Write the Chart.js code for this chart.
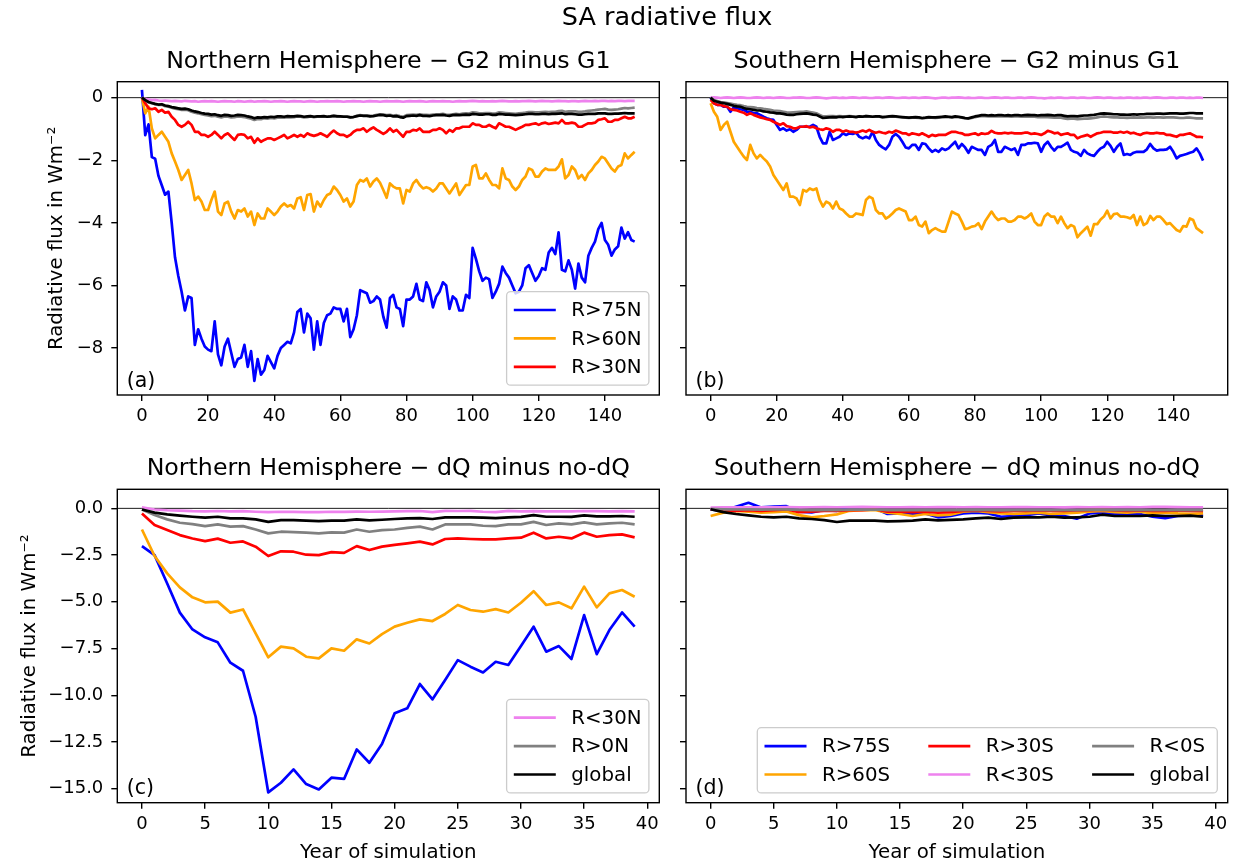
<!DOCTYPE html>
<html lang="en">
<head>
  <meta charset="UTF-8">
  <title>SA radiative flux</title>
  <script src="https://cdn.jsdelivr.net/npm/chart.js"></script>
  <style>
    body { margin: 0; background: #fff; }
    #fig { position: relative; width: 1237px; height: 863px; font-family: 'DejaVu Sans', sans-serif; }
    #fig canvas { position: absolute; }
    #suptitle { position: absolute; left: 467px; width: 400px; top: 4px; text-align: center;
                font-size: 25.5px; line-height: 25.5px; color: #000; }
  </style>
</head>
<body>
<div id="fig">
  <canvas id="panelA" width="668" height="440" style="left:0;top:0;width:668px;height:440px"></canvas>
  <canvas id="panelB" width="567" height="440" style="left:670px;top:0;width:567px;height:440px"></canvas>
  <canvas id="panelC" width="668" height="423" style="left:0;top:440px;width:668px;height:423px"></canvas>
  <canvas id="panelD" width="567" height="423" style="left:670px;top:440px;width:567px;height:423px"></canvas>
  <div id="suptitle">SA radiative flux</div>
</div>

<script>
  // ---- data ----
  const yearsLong = Array.from({ length: 150 }, (_, i) => i);
  const yearsShort = Array.from({ length: 40 }, (_, i) => i);

  const nhLabels = ['R>75N', 'R>60N', 'R>30N', 'R<30N', 'R>0N', 'global'];
  const shLabels = ['R>75S', 'R>60S', 'R>30S', 'R<30S', 'R<0S', 'global'];
  const seriesColors = ['#0000ff', '#ffa500', '#ff0000', '#ee82ee', '#808080', '#000000'];

  const xTicksLong = [0, 20, 40, 60, 80, 100, 120, 140];
  const xTicksShort = [0, 5, 10, 15, 20, 25, 30, 35, 40];
  const yTicksTop = [0, -2, -4, -6, -8];
  const yTickLabelsTop = ['0', '\u22122', '\u22124', '\u22126', '\u22128'];
  const yTicksBottom = [0, -2.5, -5, -7.5, -10, -12.5, -15];
  const yTickLabelsBottom = ['0.0', '\u22122.5', '\u22125.0', '\u22127.5', '\u221210.0', '\u221212.5', '\u221215.0'];

  // Northern Hemisphere, G2 minus G1
  const g2N75 = [0.25, -1.2, -0.85, -1.9, -1.95, -2.5, -2.8, -3.1, -3.0, -4.0,
    -5.1, -5.7, -6.2, -6.8, -6.35, -6.4, -7.9, -7.4, -7.7, -7.95,
    -8.05, -8.1, -7.15, -8.2, -8.55, -7.95, -7.7, -8.15, -8.6, -8.35,
    -8.3, -7.9, -8.6, -8.1, -9.05, -8.35, -8.85, -8.7, -8.25, -8.45,
    -8.65, -8.25, -8.0, -7.9, -7.8, -7.85, -7.5, -6.85, -6.75, -7.5,
    -6.9, -7.05, -8.05, -7.15, -7.9, -7.2, -6.95, -6.9, -6.7, -6.75,
    -6.75, -7.15, -6.75, -7.65, -7.4, -6.95, -6.15, -6.2, -6.25, -6.55,
    -6.5, -6.35, -6.45, -7.0, -7.35, -6.4, -6.3, -6.7, -6.75, -7.3,
    -6.45, -6.45, -6.35, -5.95, -6.45, -6.5, -5.9, -6.15, -6.7, -6.35,
    -6.2, -5.9, -6.0, -6.75, -6.35, -6.45, -6.8, -6.8, -6.3, -6.4,
    -4.8, -5.15, -5.55, -5.85, -5.75, -5.8, -6.4, -6.2, -5.95, -5.4,
    -5.6, -5.75, -6.0, -6.25, -6.2, -6.0, -5.45, -5.35, -5.6, -5.85,
    -5.7, -5.45, -5.5, -4.95, -4.8, -5.0, -4.3, -5.5, -5.55, -5.2,
    -5.5, -6.1, -5.3, -5.75, -5.9, -5.05, -4.8, -4.6, -4.2, -4.0,
    -4.55, -4.7, -5.05, -4.85, -4.75, -4.15, -4.5, -4.3, -4.55, -4.6];
  const g2N60 = [0, -0.5, -0.29, -0.98, -1.3, -1.19, -1.09, -1.25, -1.41, -1.78,
    -2.04, -2.31, -2.63, -2.47, -2.31, -2.74, -3.27, -3.16, -3.32, -3.59,
    -3.59, -3.27, -3.0, -3.64, -3.75, -3.38, -3.32, -3.64, -3.86, -3.59,
    -3.64, -3.54, -3.8, -3.64, -4.07, -3.7, -3.86, -3.86, -3.54, -3.64,
    -3.75, -3.64, -3.48, -3.38, -3.48, -3.43, -3.54, -3.22, -3.18, -3.59,
    -3.11, -3.08, -3.64, -3.32, -3.48, -3.27, -3.11, -3.06, -2.84, -2.95,
    -3.11, -3.32, -3.22, -3.48, -3.32, -2.79, -2.63, -2.68, -2.58, -2.84,
    -2.68, -2.58, -2.72, -2.95, -3.2, -2.74, -2.84, -2.9, -2.9, -3.38,
    -2.95, -3.0, -2.74, -2.63, -2.79, -2.9, -2.86, -2.9, -3.0, -2.9,
    -2.74, -2.74, -2.9, -3.06, -2.9, -2.74, -3.11, -2.95, -2.79, -2.79,
    -2.2, -2.15, -2.58, -2.58, -2.42, -2.63, -2.79, -2.79, -2.9, -2.26,
    -2.58, -2.63, -2.84, -2.95, -2.84, -2.63, -2.52, -2.26, -2.31, -2.52,
    -2.52, -2.36, -2.26, -2.31, -2.31, -2.31, -2.2, -1.97, -2.58, -2.47,
    -2.2, -2.31, -2.58, -2.47, -2.63, -2.42, -2.31, -2.15, -2.04, -1.89,
    -1.94, -2.1, -2.26, -2.36, -2.2, -2.15, -1.78, -1.94, -1.83, -1.73];
  const g2N30 = [0, -0.18, -0.34, -0.37, -0.34, -0.45, -0.39, -0.48, -0.45, -0.61,
    -0.71, -0.87, -0.93, -0.87, -0.77, -0.87, -1.09, -1.09, -1.19, -1.19,
    -1.25, -1.19, -1.09, -1.19, -1.3, -1.19, -1.14, -1.25, -1.35, -1.19,
    -1.17, -1.19, -1.3, -1.25, -1.44, -1.3, -1.41, -1.35, -1.3, -1.3,
    -1.35, -1.3, -1.25, -1.19, -1.3, -1.25, -1.19, -1.25, -1.19, -1.25,
    -1.14, -1.19, -1.22, -1.19, -1.14, -1.19, -1.25, -1.14, -1.05, -1.14,
    -1.19, -1.19, -1.25, -1.19, -1.09, -1.03, -1.03, -0.98, -1.09, -1.01,
    -0.95, -1.03, -1.09, -1.16, -1.09, -0.98, -1.09, -1.03, -1.14, -1.25,
    -1.09, -1.09, -1.03, -1.05, -0.98, -1.09, -1.09, -1.09, -1.03, -1.03,
    -0.98, -1.03, -1.14, -1.03, -1.09, -0.98, -0.98, -0.93, -0.93, -0.93,
    -0.82, -0.87, -0.87, -0.93, -0.93, -0.87, -0.93, -0.98, -0.82, -0.87,
    -0.93, -0.93, -0.98, -1.03, -0.98, -0.93, -0.87, -0.87, -0.84, -0.82,
    -0.87, -0.82, -0.8, -0.84, -0.82, -0.8, -0.82, -0.71, -0.82, -0.82,
    -0.8, -0.82, -0.93, -0.93, -0.87, -0.82, -0.82, -0.8, -0.71, -0.69,
    -0.66, -0.77, -0.77, -0.71, -0.71, -0.66, -0.61, -0.66, -0.66, -0.61];
  const g2N30lt = [0, -0.04, -0.06, -0.08, -0.07, -0.09, -0.1, -0.09, -0.1, -0.11,
    -0.1, -0.11, -0.12, -0.1, -0.11, -0.12, -0.11, -0.13, -0.12, -0.11,
    -0.12, -0.11, -0.12, -0.13, -0.12, -0.11, -0.12, -0.12, -0.13, -0.11,
    -0.12, -0.13, -0.12, -0.11, -0.13, -0.12, -0.12, -0.11, -0.12, -0.13,
    -0.12, -0.12, -0.11, -0.12, -0.13, -0.12, -0.11, -0.12, -0.12, -0.13,
    -0.12, -0.11, -0.12, -0.13, -0.12, -0.12, -0.11, -0.12, -0.12, -0.11,
    -0.12, -0.13, -0.12, -0.12, -0.11, -0.12, -0.12, -0.13, -0.12, -0.11,
    -0.12, -0.12, -0.13, -0.12, -0.11, -0.12, -0.12, -0.11, -0.12, -0.13,
    -0.12, -0.11, -0.12, -0.12, -0.11, -0.12, -0.13, -0.12, -0.11, -0.12,
    -0.12, -0.11, -0.12, -0.12, -0.13, -0.12, -0.11, -0.12, -0.12, -0.11,
    -0.1, -0.11, -0.12, -0.11, -0.12, -0.12, -0.11, -0.12, -0.11, -0.1,
    -0.11, -0.12, -0.12, -0.11, -0.12, -0.11, -0.11, -0.1, -0.11, -0.12,
    -0.11, -0.1, -0.11, -0.11, -0.12, -0.11, -0.1, -0.11, -0.11, -0.12,
    -0.11, -0.11, -0.12, -0.11, -0.1, -0.11, -0.11, -0.1, -0.11, -0.1,
    -0.1, -0.11, -0.1, -0.11, -0.1, -0.1, -0.11, -0.1, -0.1, -0.1];
  const g2N0 = [0, -0.08, -0.15, -0.18, -0.21, -0.23, -0.23, -0.27, -0.29, -0.32,
    -0.35, -0.37, -0.39, -0.38, -0.4, -0.45, -0.48, -0.5, -0.53, -0.55,
    -0.57, -0.59, -0.58, -0.61, -0.63, -0.6, -0.61, -0.63, -0.62, -0.6,
    -0.61, -0.62, -0.65, -0.67, -0.71, -0.68, -0.69, -0.66, -0.67, -0.65,
    -0.66, -0.64, -0.63, -0.64, -0.62, -0.63, -0.62, -0.6, -0.61, -0.63,
    -0.62, -0.6, -0.62, -0.61, -0.61, -0.6, -0.61, -0.6, -0.58, -0.59,
    -0.6, -0.6, -0.6, -0.62, -0.61, -0.58, -0.56, -0.57, -0.57, -0.58,
    -0.57, -0.55, -0.53, -0.54, -0.56, -0.55, -0.57, -0.56, -0.59, -0.61,
    -0.56, -0.55, -0.54, -0.55, -0.53, -0.55, -0.55, -0.56, -0.54, -0.53,
    -0.53, -0.52, -0.54, -0.55, -0.53, -0.52, -0.53, -0.51, -0.5, -0.51,
    -0.47, -0.48, -0.5, -0.5, -0.49, -0.49, -0.51, -0.51, -0.47, -0.48,
    -0.49, -0.5, -0.51, -0.52, -0.5, -0.49, -0.48, -0.46, -0.46, -0.47,
    -0.47, -0.46, -0.45, -0.46, -0.45, -0.45, -0.43, -0.42, -0.45, -0.44,
    -0.44, -0.44, -0.45, -0.45, -0.44, -0.42, -0.41, -0.4, -0.38, -0.37,
    -0.36, -0.38, -0.39, -0.38, -0.37, -0.35, -0.33, -0.34, -0.33, -0.32];
  const g2NGlobal = [0, -0.08, -0.14, -0.17, -0.2, -0.22, -0.21, -0.25, -0.27, -0.3,
    -0.32, -0.34, -0.36, -0.35, -0.37, -0.41, -0.44, -0.46, -0.49, -0.51,
    -0.52, -0.54, -0.53, -0.56, -0.58, -0.55, -0.56, -0.58, -0.57, -0.55,
    -0.56, -0.57, -0.6, -0.62, -0.66, -0.63, -0.64, -0.62, -0.63, -0.61,
    -0.62, -0.6, -0.6, -0.61, -0.59, -0.6, -0.6, -0.58, -0.59, -0.61,
    -0.6, -0.59, -0.61, -0.6, -0.6, -0.59, -0.61, -0.6, -0.58, -0.6,
    -0.6, -0.61, -0.61, -0.63, -0.62, -0.59, -0.57, -0.58, -0.58, -0.6,
    -0.59, -0.57, -0.55, -0.56, -0.58, -0.57, -0.6, -0.59, -0.62, -0.64,
    -0.59, -0.58, -0.57, -0.58, -0.56, -0.58, -0.58, -0.59, -0.57, -0.56,
    -0.56, -0.55, -0.57, -0.58, -0.56, -0.55, -0.56, -0.55, -0.54, -0.55,
    -0.52, -0.53, -0.54, -0.54, -0.53, -0.53, -0.55, -0.55, -0.52, -0.53,
    -0.54, -0.54, -0.55, -0.56, -0.55, -0.54, -0.53, -0.52, -0.52, -0.53,
    -0.53, -0.52, -0.52, -0.53, -0.52, -0.52, -0.51, -0.5, -0.53, -0.52,
    -0.52, -0.53, -0.54, -0.54, -0.53, -0.52, -0.52, -0.52, -0.5, -0.5,
    -0.5, -0.52, -0.52, -0.51, -0.51, -0.5, -0.49, -0.5, -0.5, -0.5];

  // Southern Hemisphere, G2 minus G1
  const g2S75 = [0, -0.18, -0.23, -0.23, -0.29, -0.29, -0.45, -0.31, -0.34, -0.37,
    -0.39, -0.45, -0.45, -0.5, -0.5, -0.55, -0.61, -0.66, -0.69, -0.71,
    -0.87, -1.03, -0.98, -1.05, -1.01, -1.09, -1.03, -0.93, -0.93, -0.93,
    -0.93, -0.87, -0.93, -1.25, -1.46, -1.46, -1.09, -1.35, -1.3, -1.25,
    -1.14, -1.19, -1.14, -1.16, -1.12, -1.25, -1.3, -1.25, -1.3, -1.09,
    -1.35, -1.51, -1.59, -1.65, -1.51, -1.25, -1.16, -1.25, -1.41, -1.59,
    -1.62, -1.51, -1.51, -1.67, -1.46, -1.48, -1.62, -1.73, -1.67, -1.73,
    -1.62, -1.67, -1.62, -1.51, -1.41, -1.62, -1.48, -1.59, -1.76, -1.57,
    -1.62, -1.67, -1.67, -1.83, -1.57, -1.51, -1.35, -1.73, -1.73, -1.57,
    -1.62, -1.67, -1.62, -1.83, -1.51, -1.51, -1.46, -1.46, -1.44, -1.46,
    -1.73, -1.51, -1.41, -1.57, -1.69, -1.57, -1.57, -1.51, -1.44, -1.67,
    -1.73, -1.76, -1.86, -1.67, -1.78, -1.83, -1.86, -1.73, -1.62, -1.57,
    -1.41, -1.54, -1.73, -1.57, -1.46, -1.83, -1.8, -1.83, -1.76, -1.73,
    -1.73, -1.73, -1.65, -1.48, -1.62, -1.69, -1.67, -1.67, -1.65, -1.57,
    -1.73, -1.94, -1.86, -1.83, -1.8, -1.76, -1.73, -1.62, -1.78, -2.01];
  const g2S60 = [-0.18, -0.45, -0.61, -1.03, -0.87, -0.77, -1.09, -1.41, -1.57, -1.73,
    -1.88, -1.99, -1.51, -1.78, -1.94, -1.83, -1.94, -2.04, -2.2, -2.47,
    -2.63, -2.79, -2.95, -2.74, -3.16, -3.16, -3.22, -3.43, -2.95, -3.0,
    -2.9, -2.95, -2.9, -3.27, -3.48, -3.32, -3.38, -3.54, -3.32, -3.54,
    -3.59, -3.7, -3.8, -3.8, -3.7, -3.72, -3.75, -3.27, -3.16, -3.22,
    -3.59, -3.7, -3.7, -3.86, -3.8, -3.7, -3.59, -3.54, -3.59, -3.64,
    -3.91, -3.91, -3.8, -4.07, -4.12, -3.96, -4.33, -4.23, -4.17, -4.23,
    -4.28, -4.28, -3.96, -3.64, -3.7, -3.75, -3.96, -4.2, -4.17, -4.12,
    -4.1, -4.01, -4.2, -3.96, -3.8, -3.64, -3.8, -3.91, -3.86, -3.86,
    -3.96, -3.96, -3.91, -3.8, -3.8, -3.86, -3.8, -3.7, -3.96, -4.07,
    -4.07, -3.8, -3.7, -3.8, -3.8, -4.01, -3.8, -4.01, -4.17, -4.07,
    -4.12, -4.46, -4.33, -4.23, -4.12, -4.41, -4.04, -4.04, -3.89, -3.8,
    -3.61, -3.86, -3.72, -3.7, -3.8, -3.8, -3.82, -3.86, -3.75, -4.07,
    -3.8, -4.07, -4.01, -3.78, -3.91, -3.8, -3.8, -3.91, -4.04, -4.01,
    -4.12, -4.23, -4.28, -4.1, -4.12, -3.86, -3.91, -4.17, -4.25, -4.33];
  const g2S30 = [-0.07, -0.18, -0.23, -0.23, -0.27, -0.29, -0.37, -0.39, -0.41, -0.45,
    -0.48, -0.55, -0.5, -0.55, -0.59, -0.63, -0.66, -0.69, -0.71, -0.77,
    -0.82, -0.87, -0.82, -0.91, -0.93, -0.98, -0.98, -0.93, -0.93, -0.91,
    -0.95, -0.93, -0.98, -1.01, -1.03, -0.98, -1.01, -1.09, -1.03, -1.03,
    -1.09, -1.05, -1.09, -1.09, -1.12, -1.09, -1.05, -1.09, -1.03, -1.09,
    -1.12, -1.09, -1.12, -1.14, -1.09, -1.12, -1.05, -1.09, -1.14, -1.14,
    -1.19, -1.14, -1.16, -1.19, -1.14, -1.19, -1.25, -1.19, -1.22, -1.19,
    -1.19, -1.19, -1.14, -1.09, -1.09, -1.12, -1.14, -1.19, -1.19, -1.16,
    -1.14, -1.19, -1.14, -1.16, -1.14, -1.06, -1.12, -1.14, -1.14, -1.12,
    -1.14, -1.12, -1.14, -1.14, -1.14, -1.12, -1.12, -1.16, -1.14, -1.16,
    -1.19, -1.14, -1.06, -1.09, -1.14, -1.12, -1.19, -1.16, -1.14, -1.19,
    -1.19, -1.3, -1.25, -1.22, -1.19, -1.25, -1.19, -1.14, -1.12, -1.09,
    -1.09, -1.09, -1.12, -1.12, -1.09, -1.12, -1.09, -1.14, -1.12, -1.16,
    -1.19, -1.14, -1.12, -1.14, -1.14, -1.12, -1.14, -1.14, -1.19, -1.19,
    -1.22, -1.25, -1.19, -1.19, -1.16, -1.14, -1.19, -1.25, -1.25, -1.27];
  const g2S30lt = [0, 0.01, 0, -0.01, 0, 0.01, 0, -0.01, 0, 0.01,
    0, -0.01, -0.01, 0, 0.01, 0, -0.01, 0, 0, -0.01,
    0, 0.01, 0, -0.01, -0.01, 0, 0, 0.01, 0, -0.01,
    -0.01, 0, 0.01, 0, -0.01, -0.02, -0.01, 0, 0, -0.01,
    0, -0.01, 0, 0.01, 0, -0.01, 0, 0, -0.01, -0.01,
    0, 0, -0.01, 0, 0.01, 0, -0.01, -0.01, 0, 0,
    -0.01, 0, 0, -0.01, 0, 0.01, 0, -0.01, -0.02, -0.01,
    0, 0, -0.01, 0, 0, 0.01, 0, -0.01, 0, -0.01,
    -0.01, 0, 0, -0.01, -0.01, 0, 0.01, 0, -0.01, 0,
    0, -0.01, -0.01, 0, 0, -0.01, 0, 0.01, 0, -0.01,
    -0.01, -0.02, -0.01, 0, -0.01, 0, 0, -0.01, -0.01, 0,
    0, -0.01, 0, 0, -0.01, -0.01, 0, 0.01, 0, -0.01,
    0, 0, -0.01, -0.01, 0, -0.01, 0, 0, -0.01, 0,
    -0.01, 0, 0, -0.01, 0, 0.01, 0, -0.01, -0.01, 0,
    0, -0.01, 0, 0, -0.01, 0, -0.01, 0, 0, -0.01];
  const g2S0 = [0, -0.08, -0.11, -0.14, -0.15, -0.17, -0.19, -0.21, -0.23, -0.24,
    -0.27, -0.29, -0.3, -0.31, -0.33, -0.34, -0.36, -0.37, -0.39, -0.41,
    -0.42, -0.43, -0.45, -0.47, -0.48, -0.47, -0.46, -0.45, -0.45, -0.44,
    -0.46, -0.48, -0.5, -0.55, -0.6, -0.6, -0.59, -0.59, -0.6, -0.59,
    -0.6, -0.6, -0.59, -0.6, -0.61, -0.6, -0.6, -0.59, -0.6, -0.61,
    -0.6, -0.61, -0.62, -0.62, -0.61, -0.6, -0.61, -0.62, -0.63, -0.64,
    -0.65, -0.64, -0.64, -0.65, -0.66, -0.65, -0.64, -0.64, -0.65, -0.64,
    -0.63, -0.62, -0.62, -0.63, -0.62, -0.62, -0.64, -0.66, -0.67, -0.65,
    -0.62, -0.6, -0.59, -0.59, -0.6, -0.59, -0.6, -0.6, -0.59, -0.6,
    -0.6, -0.61, -0.6, -0.6, -0.61, -0.61, -0.6, -0.61, -0.61, -0.62,
    -0.62, -0.62, -0.62, -0.63, -0.64, -0.64, -0.64, -0.66, -0.68, -0.67,
    -0.67, -0.69, -0.68, -0.67, -0.67, -0.66, -0.65, -0.63, -0.61, -0.6,
    -0.61, -0.62, -0.63, -0.63, -0.64, -0.64, -0.65, -0.64, -0.63, -0.64,
    -0.63, -0.64, -0.63, -0.63, -0.64, -0.63, -0.63, -0.64, -0.63, -0.63,
    -0.63, -0.64, -0.65, -0.65, -0.64, -0.64, -0.65, -0.66, -0.66, -0.66];
  const g2SGlobal = [0, -0.1, -0.13, -0.16, -0.18, -0.2, -0.23, -0.26, -0.28, -0.29,
    -0.33, -0.36, -0.37, -0.39, -0.41, -0.41, -0.44, -0.45, -0.47, -0.48,
    -0.5, -0.5, -0.52, -0.54, -0.55, -0.55, -0.53, -0.52, -0.51, -0.5,
    -0.52, -0.54, -0.55, -0.6, -0.65, -0.64, -0.63, -0.62, -0.63, -0.61,
    -0.62, -0.61, -0.6, -0.61, -0.62, -0.6, -0.61, -0.59, -0.6, -0.61,
    -0.6, -0.6, -0.62, -0.61, -0.6, -0.59, -0.6, -0.61, -0.62, -0.63,
    -0.64, -0.63, -0.62, -0.63, -0.65, -0.64, -0.62, -0.63, -0.63, -0.62,
    -0.61, -0.6, -0.61, -0.62, -0.6, -0.61, -0.63, -0.65, -0.66, -0.63,
    -0.6, -0.58, -0.56, -0.56, -0.57, -0.56, -0.57, -0.56, -0.56, -0.57,
    -0.56, -0.57, -0.56, -0.56, -0.57, -0.56, -0.55, -0.56, -0.56, -0.57,
    -0.56, -0.56, -0.55, -0.56, -0.57, -0.56, -0.56, -0.58, -0.6, -0.59,
    -0.59, -0.6, -0.58, -0.57, -0.57, -0.56, -0.55, -0.53, -0.51, -0.5,
    -0.51, -0.52, -0.53, -0.53, -0.54, -0.54, -0.55, -0.54, -0.53, -0.54,
    -0.53, -0.53, -0.52, -0.52, -0.52, -0.51, -0.51, -0.52, -0.51, -0.5,
    -0.5, -0.5, -0.51, -0.51, -0.5, -0.49, -0.49, -0.5, -0.5, -0.5];

  // Northern Hemisphere, dQ minus no-dQ
  const dqN75 = [-2.02, -2.5, -4.02, -5.58, -6.48, -6.9, -7.17, -8.26, -8.69, -11.15,
    -15.2, -14.68, -13.97, -14.75, -15.04, -14.41, -14.48, -12.9, -13.61, -12.61,
    -10.97, -10.7, -9.4, -10.22, -9.19, -8.12, -8.47, -8.78, -8.21, -8.38,
    -7.37, -6.33, -7.67, -7.37, -8.06, -5.71, -7.8, -6.51, -5.57, -6.33];
  const dqN60 = [-1.13, -2.55, -3.48, -4.23, -4.76, -5.03, -4.99, -5.58, -5.41, -6.69,
    -7.97, -7.4, -7.49, -7.94, -8.03, -7.49, -7.62, -7.01, -7.23, -6.73,
    -6.33, -6.12, -5.94, -6.03, -5.65, -5.17, -5.44, -5.53, -5.39, -5.57,
    -5.05, -4.43, -5.17, -5.03, -5.35, -4.19, -5.3, -4.55, -4.37, -4.73];
  const dqN30 = [-0.27, -0.89, -1.16, -1.43, -1.61, -1.75, -1.62, -1.84, -1.77, -2.05,
    -2.55, -2.3, -2.32, -2.48, -2.5, -2.34, -2.38, -2.02, -2.23, -2.05,
    -1.95, -1.87, -1.78, -1.93, -1.64, -1.61, -1.64, -1.66, -1.66, -1.61,
    -1.57, -1.3, -1.61, -1.52, -1.61, -1.3, -1.52, -1.43, -1.39, -1.55];
  const dqN30lt = [0.05, -0.06, -0.1, -0.12, -0.15, -0.16, -0.14, -0.16, -0.15, -0.18,
    -0.2, -0.18, -0.19, -0.2, -0.2, -0.18, -0.19, -0.17, -0.18, -0.17,
    -0.16, -0.15, -0.14, -0.2, -0.13, -0.14, -0.13, -0.18, -0.2, -0.13,
    -0.16, -0.15, -0.16, -0.16, -0.16, -0.14, -0.15, -0.16, -0.15, -0.16];
  const dqN0 = [-0.06, -0.36, -0.59, -0.77, -0.84, -0.95, -0.86, -0.98, -0.95, -1.13,
    -1.34, -1.25, -1.27, -1.3, -1.34, -1.29, -1.3, -1.13, -1.25, -1.16,
    -1.13, -1.04, -0.98, -1.13, -0.86, -0.86, -0.86, -0.93, -0.95, -0.86,
    -0.86, -0.72, -0.89, -0.8, -0.86, -0.75, -0.86, -0.8, -0.77, -0.86];
  const dqNGlobal = [-0.06, -0.23, -0.32, -0.39, -0.45, -0.5, -0.45, -0.54, -0.54, -0.59,
    -0.72, -0.63, -0.63, -0.66, -0.68, -0.66, -0.66, -0.59, -0.64, -0.61,
    -0.57, -0.54, -0.52, -0.57, -0.48, -0.48, -0.48, -0.5, -0.52, -0.48,
    -0.46, -0.36, -0.45, -0.45, -0.46, -0.38, -0.43, -0.43, -0.41, -0.45];

  // Southern Hemisphere, dQ minus no-dQ
  const dqS75 = [-0.05, -0.13, 0.09, 0.3, 0.05, 0.09, 0.12, -0.18, -0.22, -0.09,
    -0.13, 0.0, -0.06, 0.0, -0.3, -0.27, -0.3, -0.27, -0.48, -0.41,
    -0.27, -0.23, -0.27, -0.45, -0.41, -0.36, -0.27, -0.38, -0.41, -0.55,
    -0.27, -0.23, -0.32, -0.27, -0.3, -0.45, -0.53, -0.41, -0.38, -0.36];
  const dqS60 = [-0.41, -0.23, -0.14, -0.18, -0.23, -0.2, -0.16, -0.36, -0.48, -0.41,
    -0.32, -0.13, -0.09, -0.09, -0.23, -0.3, -0.41, -0.3, -0.38, -0.34,
    -0.18, -0.13, -0.2, -0.27, -0.3, -0.27, -0.23, -0.3, -0.27, -0.23,
    -0.18, -0.14, -0.2, -0.23, -0.18, -0.27, -0.23, -0.27, -0.29, -0.27];
  const dqS30 = [-0.05, -0.09, -0.13, -0.09, -0.13, -0.09, -0.05, -0.2, -0.18, -0.14,
    -0.13, -0.09, -0.09, -0.05, -0.18, -0.18, -0.2, -0.18, -0.23, -0.2,
    -0.13, -0.11, -0.14, -0.16, -0.14, -0.13, -0.11, -0.14, -0.13, -0.11,
    -0.09, -0.07, -0.11, -0.13, -0.11, -0.14, -0.13, -0.11, -0.13, -0.14];
  const dqS30lt = [0.04, 0.05, 0.05, 0.06, 0.05, 0.06, 0.07, 0.05, 0.06, 0.07,
    0.06, 0.07, 0.08, 0.07, 0.06, 0.06, 0.07, 0.06, 0.07, 0.07,
    0.06, 0.07, 0.06, 0.06, 0.07, 0.07, 0.06, 0.06, 0.05, 0.07,
    0.06, 0.07, 0.06, 0.07, 0.06, 0.08, 0.08, 0.07, 0.06, 0.06];
  const dqS0 = [-0.03, -0.05, -0.06, -0.05, -0.07, -0.06, -0.05, -0.08, -0.09, -0.08,
    -0.09, -0.07, -0.07, -0.06, -0.09, -0.1, -0.1, -0.09, -0.11, -0.1,
    -0.09, -0.08, -0.09, -0.11, -0.1, -0.09, -0.09, -0.1, -0.1, -0.1,
    -0.08, -0.07, -0.09, -0.09, -0.09, -0.1, -0.1, -0.09, -0.09, -0.1];
  const dqSGlobal = [-0.05, -0.2, -0.3, -0.38, -0.45, -0.48, -0.45, -0.54, -0.57, -0.63,
    -0.73, -0.66, -0.65, -0.66, -0.7, -0.68, -0.66, -0.59, -0.64, -0.62,
    -0.59, -0.54, -0.5, -0.57, -0.5, -0.48, -0.48, -0.45, -0.5, -0.48,
    -0.45, -0.34, -0.41, -0.41, -0.41, -0.38, -0.41, -0.41, -0.39, -0.45];

  // ---- drawing ----
  const FONT = '"DejaVu Sans"';
  Chart.defaults.font.family = FONT;
  Chart.defaults.color = '#000';

  function drawLegend(ctx, area, lg, labels) {
    const rowH = 28.4;
    const rows = Math.ceil(lg.items.length / lg.cols);
    const h = 36.8 + (rows - 1) * rowH;
    const x0 = area.right - 10.4 - lg.width;
    const y0 = area.bottom - 9.8 - h;
    ctx.save();
    ctx.beginPath();
    ctx.roundRect(x0, y0, lg.width, h, 4);
    ctx.fillStyle = 'rgba(255,255,255,0.8)';
    ctx.fill();
    ctx.strokeStyle = '#cccccc';
    ctx.lineWidth = 1.3;
    ctx.stroke();
    ctx.font = '19.8px ' + FONT;
    ctx.textAlign = 'left';
    ctx.textBaseline = 'middle';
    lg.items.forEach((idx, k) => {
      const col = Math.floor(k / rows), row = k % rows;
      const hx = x0 + 7.2 + col * lg.colWidth;
      const hy = y0 + 18.4 + row * rowH;
      ctx.strokeStyle = seriesColors[idx];
      ctx.lineWidth = 2.7;
      ctx.beginPath();
      ctx.moveTo(hx, hy);
      ctx.lineTo(hx + 42, hy);
      ctx.stroke();
      ctx.fillStyle = '#000';
      ctx.fillText(labels[idx], hx + 57.5, hy + 1);
    });
    ctx.restore();
  }

  const panelDecor = {
    id: 'panelDecor',
    beforeDatasetsDraw(chart) {
      // horizontal reference line at zero
      const { ctx, chartArea: a } = chart;
      const y0 = chart.scales.y.getPixelForValue(0);
      ctx.save();
      ctx.strokeStyle = '#000';
      ctx.lineWidth = 0.9;
      ctx.beginPath();
      ctx.moveTo(a.left, y0);
      ctx.lineTo(a.right, y0);
      ctx.stroke();
      ctx.restore();
    },
    afterDatasetsDraw(chart, args, opts) {
      const { ctx, chartArea: a } = chart;
      ctx.save();
      ctx.strokeStyle = '#000';
      ctx.lineWidth = 1.4;
      ctx.strokeRect(a.left, a.top, a.right - a.left, a.bottom - a.top);

      ctx.fillStyle = '#000';
      ctx.textBaseline = 'alphabetic';
      ctx.textAlign = 'center';
      ctx.font = '23.7px ' + FONT;
      ctx.fillText(opts.title, (a.left + a.right) / 2, a.top - 14);

      ctx.textAlign = 'left';
      ctx.font = '20.5px ' + FONT;
      ctx.fillText(opts.tag, a.left + 9.4, a.bottom - 8.5);

      ctx.font = '19.8px ' + FONT;
      if (opts.xLabel) {
        ctx.textAlign = 'center';
        ctx.fillText(opts.xLabel, (a.left + a.right) / 2, a.bottom + 55);
      }
      if (opts.yLabel) {
        ctx.save();
        ctx.translate(opts.yLabelX, (a.top + a.bottom) / 2);
        ctx.rotate(-Math.PI / 2);
        ctx.textAlign = 'center';
        ctx.fillText(opts.yLabel, 0, 0);
        ctx.restore();
      }
      ctx.restore();
      if (opts.legend) drawLegend(ctx, a, opts.legend, opts.labels);
    }
  };

  function makePanel(id, p) {
    const datasets = p.series.map((vals, i) => ({
      label: p.labels[i],
      data: vals.map((v, k) => ({ x: p.years[k], y: v })),
      borderColor: seriesColors[i],
      backgroundColor: seriesColors[i],
      borderWidth: 2.7,
      borderJoinStyle: 'round',
      pointRadius: 0,
      tension: 0,
      fill: false,
      order: p.series.length - i
    }));
    return new Chart(document.getElementById(id), {
      type: 'line',
      data: { datasets },
      plugins: [panelDecor],
      options: {
        responsive: false,
        animation: false,
        devicePixelRatio: 1,
        layout: { padding: p.padding },
        plugins: {
          legend: { display: false },
          title: { display: false },
          tooltip: { enabled: false },
          panelDecor: {
            title: p.title, tag: p.tag, xLabel: p.xLabel, yLabel: p.yLabel, yLabelX: p.yLabelX,
            legend: p.legend, labels: p.labels
          }
        },
        scales: {
          x: {
            type: 'linear',
            min: p.xRange[0], max: p.xRange[1],
            afterBuildTicks: s => { s.ticks = p.xTicks.map(v => ({ value: v })); },
            afterFit: s => { s.height = p.xAxisH; },
            ticks: { font: { size: 18 }, color: '#000', padding: 5, maxRotation: 0, autoSkip: false,
                     callback: v => String(v) },
            grid: { drawOnChartArea: false, drawTicks: true, tickLength: 6, color: '#000', lineWidth: 1.4 },
            border: { display: false }
          },
          y: {
            type: 'linear',
            min: p.yRange[0], max: p.yRange[1],
            afterBuildTicks: s => { s.ticks = p.yTicks.map(v => ({ value: v })); },
            afterFit: s => { s.width = p.yAxisW; },
            ticks: { font: { size: 18 }, color: '#000', padding: 8, autoSkip: false,
                     callback: (v, i) => p.yTickLabels ? p.yTickLabels[i] : '' },
            grid: { drawOnChartArea: false, drawTicks: true, tickLength: 6, color: '#000', lineWidth: 1.4 },
            border: { display: false }
          }
        }
      }
    });
  }

  const yLabelText = 'Radiative flux in Wm\u207B\u00B2';
  const topRange = [-9.5, 0.51];
  const bottomRange = [-15.75, 1.02];

  makePanel('panelA', {
    title: 'Northern Hemisphere \u2212 G2 minus G1', tag: '(a)', yLabel: yLabelText, yLabelX: 61.5,
    labels: nhLabels, years: yearsLong,
    series: [g2N75, g2N60, g2N30, g2N30lt, g2N0, g2NGlobal],
    xRange: [-7.45, 156.45], xTicks: xTicksLong,
    yRange: topRange, yTicks: yTicksTop, yTickLabels: yTickLabelsTop,
    padding: { left: 0, right: 8.7, top: 81.7, bottom: 0 }, yAxisW: 117.3, xAxisH: 45,
    legend: { items: [0, 1, 2], cols: 1, colWidth: 0, width: 142.3 }
  });

  makePanel('panelB', {
    title: 'Southern Hemisphere \u2212 G2 minus G1', tag: '(b)',
    labels: shLabels, years: yearsLong,
    series: [g2S75, g2S60, g2S30, g2S30lt, g2S0, g2SGlobal],
    xRange: [-7.45, 156.45], xTicks: xTicksLong,
    yRange: topRange, yTicks: yTicksTop, yTickLabels: null,
    padding: { left: 0, right: 9.3, top: 81.7, bottom: 0 }, yAxisW: 16, xAxisH: 45
  });

  makePanel('panelC', {
    title: 'Northern Hemisphere \u2212 dQ minus no-dQ', tag: '(c)', yLabel: yLabelText, yLabelX: 35,
    xLabel: 'Year of simulation',
    labels: nhLabels, years: yearsShort,
    series: [dqN75, dqN60, dqN30, dqN30lt, dqN0, dqNGlobal],
    xRange: [-1.95, 40.95], xTicks: xTicksShort,
    yRange: bottomRange, yTicks: yTicksBottom, yTickLabels: yTickLabelsBottom,
    padding: { left: 0, right: 8.7, top: 49.3, bottom: 0 }, yAxisW: 117.3, xAxisH: 60.3,
    legend: { items: [3, 4, 5], cols: 1, colWidth: 0, width: 142.3 }
  });

  makePanel('panelD', {
    title: 'Southern Hemisphere \u2212 dQ minus no-dQ', tag: '(d)',
    xLabel: 'Year of simulation',
    labels: shLabels, years: yearsShort,
    series: [dqS75, dqS60, dqS30, dqS30lt, dqS0, dqSGlobal],
    xRange: [-1.95, 40.95], xTicks: xTicksShort,
    yRange: bottomRange, yTicks: yTicksBottom, yTickLabels: null,
    padding: { left: 0, right: 9.3, top: 49.3, bottom: 0 }, yAxisW: 16, xAxisH: 60.3,
    legend: { items: [0, 1, 2, 3, 4, 5], cols: 3, colWidth: 163.8, width: 460 }
  });
</script>
</body>
</html>
